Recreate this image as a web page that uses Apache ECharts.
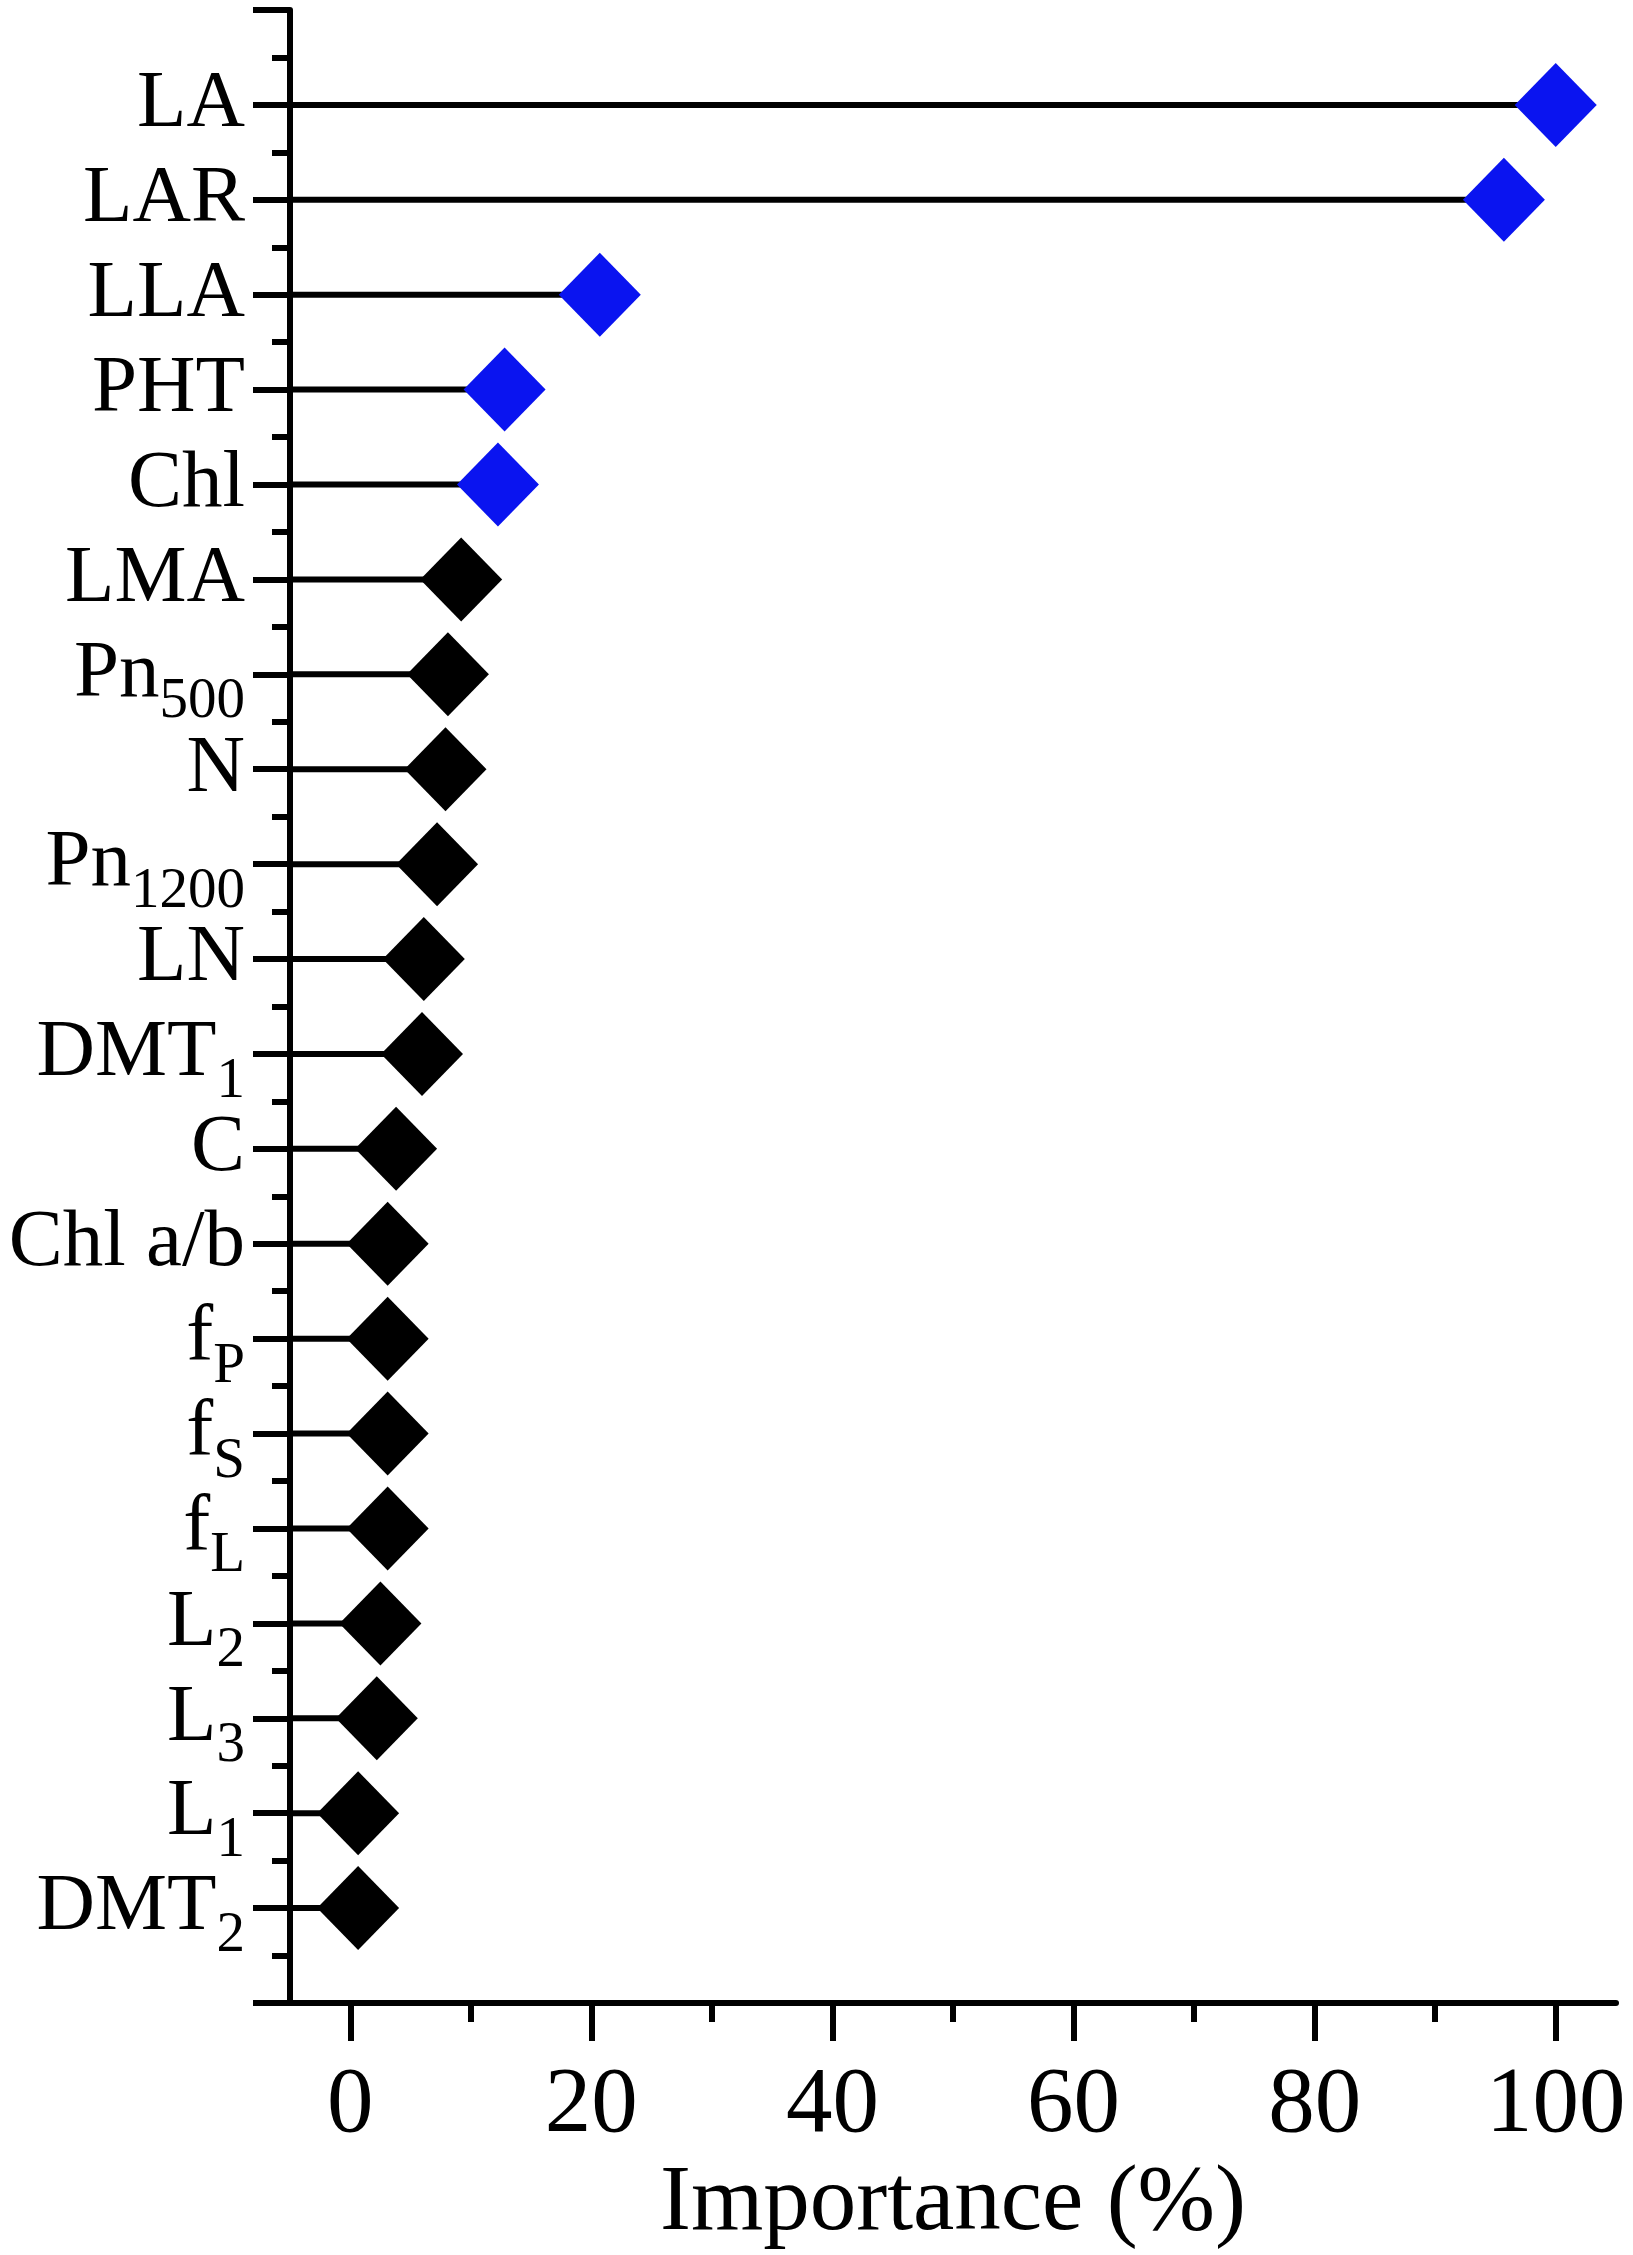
<!DOCTYPE html>
<html>
<head>
<meta charset="utf-8">
<script src="https://cdn.jsdelivr.net/npm/echarts@6/dist/echarts.min.js"></script>
<style>
  html, body { margin: 0; padding: 0; background: #ffffff; }
  #chart { width: 1633px; height: 2255px; }
</style>
</head>
<body>
<div id="chart"></div>
<script>
// ---- data ----
const labelBase = ['LA', 'LAR', 'LLA', 'PHT', 'Chl', 'LMA', 'Pn', 'N', 'Pn', 'LN',
                   'DMT', 'C', 'Chl a/b', 'f', 'f', 'f', 'L', 'L', 'L', 'DMT'];
const labelSub  = ['', '', '', '', '', '', '500', '', '1200', '',
                   '1', '', '', 'P', 'S', 'L', '2', '3', '1', '2'];
const importance = [100.0, 95.7, 20.7, 12.8, 12.25, 9.2, 8.1, 7.9, 7.2, 6.1,
                    5.95, 3.8, 3.1, 3.1, 3.1, 3.1, 2.5, 2.2, 0.65, 0.65];
const highlighted = ['LA', 'LAR', 'LLA', 'PHT', 'Chl'];
const xTicksMajor = [0, 20, 40, 60, 80, 100];
const xTicksMinor = [10, 30, 50, 70, 90];

// ---- chart ----
const FONT = "'Liberation Serif', 'Times New Roman', serif";
const X_MIN = -5, X_MAX = 105;
const n = labelBase.length;

const pts = importance.map((v, i) => ({
  value: [v, i + 1],
  itemStyle: { color: (i < highlighted.length && highlighted[i] === labelBase[i]) ? '#0a14f0' : '#000000', opacity: 1 }
}));

const chart = echarts.init(document.getElementById('chart'), null, { renderer: 'canvas' });
chart.setOption({
  animation: false,
  backgroundColor: '#ffffff',
  grid: { left: 290, right: 17, top: 10, bottom: 252, outerBoundsMode: 'none', containLabel: false },
  xAxis: [{
    type: 'value', min: X_MIN, max: X_MAX, position: 'bottom',
    axisLine: { show: true, onZero: false, lineStyle: { color: '#000', width: 6 } },
    axisTick: { show: true, customValues: xTicksMajor, length: 38, lineStyle: { color: '#000', width: 6 } },
    axisLabel: { show: true, customValues: xTicksMajor, margin: 57, color: '#000', fontSize: 93, fontFamily: FONT },
    splitLine: { show: false },
    name: 'Importance (%)', nameLocation: 'middle', nameGap: 148,
    nameTextStyle: { color: '#000', fontSize: 93, fontFamily: FONT }
  }, {
    type: 'value', min: X_MIN, max: X_MAX, position: 'bottom', gridIndex: 0,
    axisLine: { show: false, onZero: false },
    axisTick: { show: true, customValues: xTicksMinor, length: 19, lineStyle: { color: '#000', width: 6 } },
    axisLabel: { show: false },
    splitLine: { show: false }
  }],
  yAxis: {
    type: 'value', min: 0, max: n + 1, interval: 1, inverse: true, position: 'left',
    axisLine: { show: true, onZero: false, lineStyle: { color: '#000', width: 6 } },
    axisTick: { show: true, length: 37, lineStyle: { color: '#000', width: 6 } },
    minorTick: { show: true, splitNumber: 2, length: 18, lineStyle: { color: '#000', width: 6 } },
    splitLine: { show: false },
    axisLabel: {
      show: true, margin: 45, color: '#000',
      formatter: function (v) {
        const i = Math.round(v) - 1;
        if (i < 0 || i >= n) return '';
        return '{m|' + labelBase[i] + '}' + (labelSub[i] ? '{s|' + labelSub[i] + '}' : '');
      },
      rich: {
        m: { fontSize: 81, fontFamily: FONT, color: '#000' },
        s: { fontSize: 57, fontFamily: FONT, color: '#000', padding: [56, 0, 0, 0] }
      }
    }
  },
  series: [{
    type: 'custom',
    xAxisIndex: 0, yAxisIndex: 0,
    data: importance.map((v, i) => [v, i + 1]),
    renderItem: function (params, api) {
      const y = api.value(1);
      const p0 = api.coord([X_MIN, y]);
      const p1 = api.coord([api.value(0), y]);
      return { type: 'line', shape: { x1: p0[0], y1: p0[1], x2: p1[0], y2: p1[1] },
               style: { stroke: '#000', lineWidth: 6 } };
    },
    z: 1
  }, {
    type: 'scatter',
    xAxisIndex: 0, yAxisIndex: 0,
    symbol: 'diamond', symbolSize: [82, 84],
    itemStyle: { opacity: 1 },
    data: pts,
    z: 2
  }]
});
</script>
</body>
</html>
